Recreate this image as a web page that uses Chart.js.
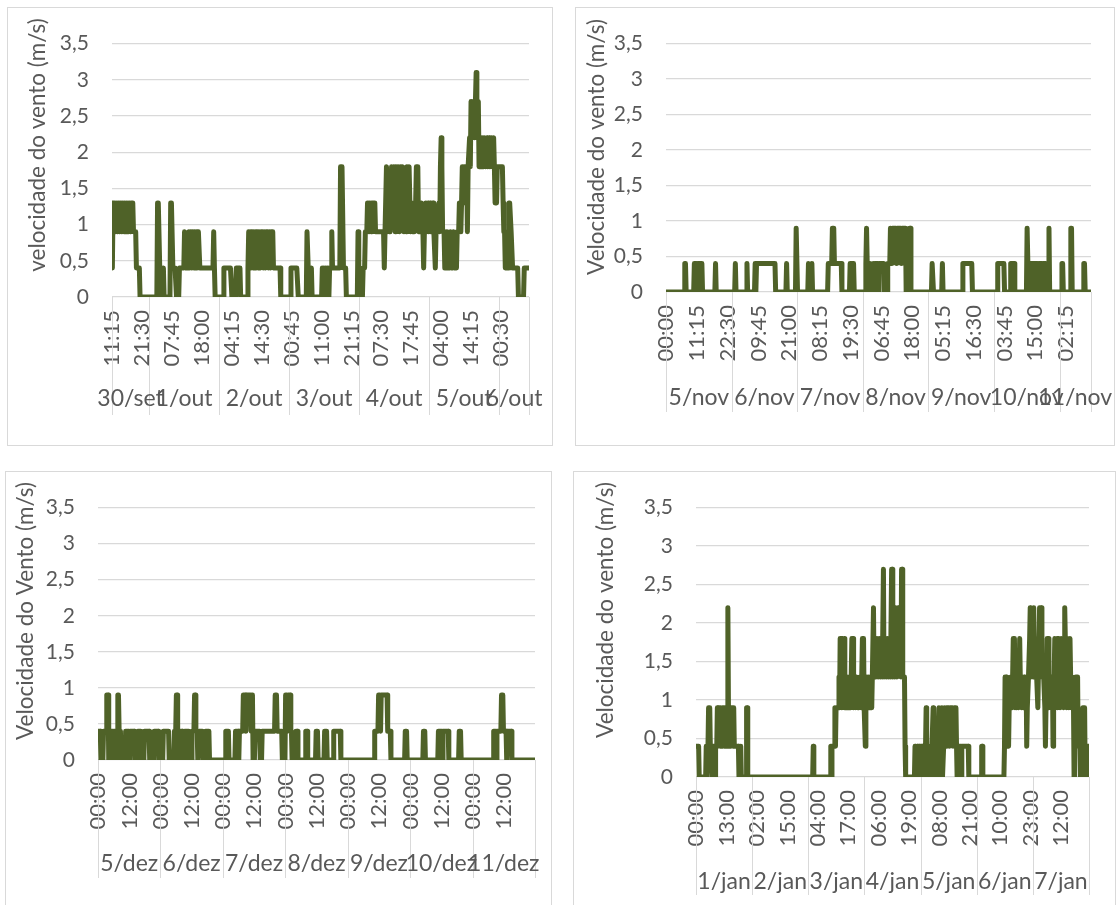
<!DOCTYPE html>
<html>
<head>
<meta charset="utf-8">
<script src="https://cdn.jsdelivr.net/npm/chart.js@4.4.1/dist/chart.umd.min.js"></script>
<style>
  html, body { margin: 0; padding: 0; background: #fff; }
  body { width: 1117px; height: 905px; overflow: hidden; position: relative; }
  .box { position: absolute; box-sizing: border-box; border: 1px solid #d9d9d9; background: #fff; }
  .box canvas { display: block; }
</style>
</head>
<body>
<div class="box" style="left:7px;top:7px;width:546px;height:439px"><canvas id="out" width="544" height="437"></canvas></div>
<div class="box" style="left:575px;top:7px;width:540px;height:439px"><canvas id="nov" width="538" height="437"></canvas></div>
<div class="box" style="left:5px;top:471px;width:547px;height:445px"><canvas id="dez" width="545" height="443"></canvas></div>
<div class="box" style="left:573px;top:471px;width:543px;height:445px"><canvas id="jan" width="541" height="443"></canvas></div>
<script>
// y axis, same for the four charts
const yTicks = [0, 0.5, 1, 1.5, 2, 2.5, 3, 3.5];
const yTickLabels = ['0', '0,5', '1', '1,5', '2', '2,5', '3', '3,5'];

// --- 30/set - 6/out (one reading every 15 min, index = reading number)
const outCount = 572;
const outDays = ['30/set', '1/out', '2/out', '3/out', '4/out', '5/out', '6/out'];
const outDayStart = [0, 51, 147, 243, 339, 435, 531];
const outTimes = ['11:15', '21:30', '07:45', '18:00', '04:15', '14:30', '00:45', '11:00', '21:15', '07:30', '17:45', '04:00', '14:15', '00:30'];
const outTickEvery = 41;
// [reading, m/s] at each change of the curve
const outVel = [[0,0.4],[1,1.3],[3,1.3],[4,0.9],[5,1.3],[7,0.9],[8,1.3],[10,0.9],[11,1.3],[13,0.9],[14,1.3],[16,0.9],[17,1.3],[19,0.9],[20,1.3],[22,0.9],[23,1.3],[25,0.9],[26,1.3],[28,1.3],[29,0.9],[32,0.9],[33,0.4],[37,0.4],[38,0],[61,0],[62,1.3],[63,1.3],[65,0.4],[66,0],[69,0],[70,0.4],[71,0],[79,0],[80,1.3],[81,1.3],[83,0.4],[86,0.4],[88,0],[91,0],[92,0.4],[98,0.4],[99,0.9],[100,0.4],[104,0.4],[105,0.9],[106,0.4],[107,0.9],[109,0.4],[110,0.9],[112,0.4],[113,0.9],[115,0.4],[116,0.9],[118,0.9],[120,0.4],[138,0.4],[139,0.9],[140,0.4],[141,0],[152,0],[153,0.4],[162,0.4],[164,0],[169,0],[170,0.4],[175,0.4],[176,0],[185,0],[186,0.4],[187,0.9],[189,0.4],[190,0.9],[192,0.9],[193,0.4],[194,0.9],[196,0.4],[197,0.9],[199,0.9],[200,0.4],[201,0.9],[203,0.4],[204,0.9],[206,0.9],[207,0.4],[208,0.9],[210,0.4],[211,0.9],[213,0.9],[214,0.4],[215,0.9],[217,0.4],[218,0.9],[220,0.9],[221,0.4],[230,0.4],[231,0],[244,0],[245,0.4],[253,0.4],[255,0],[266,0],[267,0.9],[268,0.9],[270,0],[272,0],[273,0.4],[274,0],[287,0],[288,0.4],[289,0],[290,0.4],[292,0],[293,0.4],[294,0],[295,0.4],[297,0],[298,0.4],[300,0.4],[301,0.9],[302,0.4],[312,0.4],[313,1.8],[315,1.8],[317,0.4],[320,0.4],[321,0],[336,0],[337,0.9],[338,0],[343,0],[344,0.4],[346,0.4],[347,0.9],[349,0.9],[350,1.3],[352,0.9],[353,1.3],[355,0.9],[356,1.3],[360,1.3],[361,0.9],[372,0.9],[373,0.4],[374,0.9],[376,1.8],[377,0.9],[379,1.3],[380,0.9],[381,0.9],[383,1.8],[385,1.3],[386,1.8],[388,0.9],[389,1.8],[391,1.3],[392,1.8],[394,0.9],[395,1.8],[397,1.3],[398,1.8],[400,0.9],[402,1.3],[403,0.9],[404,1.8],[406,1.3],[407,1.8],[409,0.9],[411,1.3],[412,0.9],[414,0.9],[416,1.3],[417,1.8],[419,1.8],[420,0.9],[422,0.9],[424,1.3],[426,0.9],[427,0.4],[428,0.9],[430,1.3],[431,0.9],[433,1.3],[434,0.9],[436,1.3],[437,0.9],[439,1.3],[440,1.3],[441,0.9],[443,0.4],[444,0.9],[446,0.9],[448,1.3],[449,0.9],[450,1.8],[451,2.2],[452,1.8],[453,0.9],[455,0.9],[456,0.4],[458,0.4],[459,0.9],[460,0.4],[463,0.4],[464,0.9],[465,0.4],[467,0.4],[468,0.9],[469,0.4],[472,0.4],[473,0.9],[475,0.9],[476,1.3],[478,0.9],[479,1.3],[480,1.8],[482,1.3],[483,1.8],[486,1.8],[487,0.9],[488,1.8],[490,2.2],[491,1.8],[492,2.7],[494,2.2],[495,2.7],[497,2.2],[498,2.7],[499,3.1],[500,2.7],[501,2.2],[502,2.7],[503,1.8],[504,2.2],[506,1.8],[507,2.2],[509,1.8],[510,2.2],[512,1.8],[514,2.2],[515,1.8],[517,2.2],[518,1.8],[520,2.2],[521,1.8],[523,2.2],[524,1.8],[525,1.3],[527,1.3],[528,1.8],[535,1.8],[536,1.3],[537,0.9],[538,0.9],[539,0.4],[543,0.4],[544,1.3],[545,1.3],[547,0.9],[548,0.9],[549,0.4],[556,0.4],[557,0],[564,0],[565,0.4],[571,0.4]];

// --- 5/nov - 11/nov
const novCount = 622;
const novDays = ['5/nov', '6/nov', '7/nov', '8/nov', '9/nov', '10/nov', '11/nov'];
const novDayStart = [0, 96, 192, 288, 384, 480, 576];
const novTimes = ['00:00', '11:15', '22:30', '09:45', '21:00', '08:15', '19:30', '06:45', '18:00', '05:15', '16:30', '03:45', '15:00', '02:15'];
const novTickEvery = 45;
const novVel = [[0,0],[26,0],[27,0.4],[28,0.4],[29,0],[40,0],[41,0.4],[44,0.4],[45,0],[46,0.4],[52,0.4],[53,0],[71,0],[72,0.4],[73,0],[100,0],[101,0.4],[102,0],[117,0],[118,0.4],[119,0],[129,0],[130,0.4],[131,0],[132,0.4],[159,0.4],[160,0],[175,0],[176,0.4],[177,0],[189,0],[190,0.9],[191,0.9],[192,0],[207,0],[208,0.4],[209,0],[212,0],[213,0.4],[214,0],[236,0],[237,0.4],[242,0.4],[243,0.9],[245,0.9],[246,0.4],[256,0.4],[257,0],[268,0],[269,0.4],[274,0.4],[275,0],[291,0],[292,0.4],[293,0.9],[294,0.4],[298,0.4],[299,0],[302,0],[303,0.4],[304,0],[305,0.4],[309,0.4],[310,0],[311,0.4],[318,0.4],[319,0],[323,0],[324,0.4],[327,0.4],[328,0.9],[330,0.4],[331,0.9],[336,0.9],[337,0.4],[338,0.9],[343,0.9],[344,0.4],[345,0.9],[350,0.9],[351,0],[355,0],[356,0.9],[357,0.9],[358,0],[388,0],[389,0.4],[390,0.4],[391,0],[403,0],[404,0.4],[405,0],[433,0],[434,0.4],[447,0.4],[448,0],[484,0],[485,0.4],[494,0.4],[495,0],[503,0],[504,0.4],[509,0.4],[510,0],[527,0],[528,0.9],[529,0.9],[530,0],[532,0],[533,0.4],[537,0.4],[538,0],[539,0.4],[543,0.4],[544,0],[545,0.4],[549,0.4],[550,0],[551,0.4],[555,0.4],[556,0],[559,0],[560,0.9],[561,0],[578,0],[579,0.4],[580,0.4],[581,0],[591,0],[592,0.9],[593,0.9],[594,0],[610,0],[611,0.4],[612,0.4],[613,0],[621,0]];

// --- 5/dez - 11/dez
const dezCount = 672;
const dezDays = ['5/dez', '6/dez', '7/dez', '8/dez', '9/dez', '10/dez', '11/dez'];
const dezDayStart = [0, 96, 192, 288, 384, 480, 576];
const dezTimes = ['00:00', '12:00', '00:00', '12:00', '00:00', '12:00', '00:00', '12:00', '00:00', '12:00', '00:00', '12:00', '00:00', '12:00'];
const dezTickEvery = 48;
const dezVel = [[0,0.4],[3,0.4],[4,0],[7,0],[8,0.4],[12,0.4],[13,0.9],[15,0.9],[16,0],[18,0],[19,0.4],[22,0.4],[23,0],[24,0.4],[27,0.4],[28,0],[29,0.4],[30,0.9],[31,0.9],[32,0.4],[34,0.4],[35,0],[41,0],[42,0.4],[47,0.4],[48,0],[49,0.4],[55,0.4],[56,0],[60,0],[61,0.4],[65,0.4],[66,0],[70,0],[71,0.4],[78,0.4],[79,0],[85,0],[86,0.4],[92,0.4],[93,0],[99,0],[100,0.4],[108,0.4],[109,0],[116,0],[117,0.4],[119,0.4],[120,0.9],[121,0.9],[122,0],[126,0],[127,0.4],[129,0.4],[130,0],[132,0],[133,0.4],[139,0.4],[140,0],[143,0],[144,0.4],[147,0.4],[148,0.9],[149,0.9],[150,0.4],[152,0.4],[153,0],[155,0.4],[160,0.4],[161,0],[164,0],[165,0.4],[170,0.4],[171,0],[195,0],[196,0.4],[200,0.4],[201,0],[210,0],[211,0.4],[215,0.4],[216,0],[217,0.4],[222,0.4],[223,0.9],[226,0.9],[227,0.4],[228,0.9],[234,0.9],[235,0.4],[236,0.9],[237,0.9],[238,0],[240,0],[241,0.4],[248,0.4],[249,0],[251,0],[252,0.4],[271,0.4],[272,0.9],[274,0.9],[275,0.4],[282,0.4],[283,0],[287,0],[288,0.9],[290,0.9],[291,0.4],[292,0.9],[295,0.9],[296,0.4],[297,0.4],[298,0],[303,0],[304,0.4],[306,0.4],[307,0],[318,0],[319,0.4],[321,0.4],[322,0],[334,0],[335,0.4],[337,0.4],[338,0],[347,0],[348,0.4],[351,0.4],[352,0],[361,0],[362,0.4],[372,0.4],[373,0],[424,0],[425,0.4],[430,0.4],[431,0.9],[433,0.9],[434,0.4],[435,0.9],[444,0.9],[445,0.4],[449,0.4],[450,0],[471,0],[472,0.4],[474,0.4],[475,0],[499,0],[500,0.4],[502,0.4],[503,0],[522,0],[523,0.4],[528,0.4],[529,0],[530,0.4],[538,0.4],[539,0],[554,0],[555,0.4],[557,0.4],[558,0],[607,0],[608,0.4],[611,0.4],[612,0],[613,0.4],[619,0.4],[620,0.9],[622,0.9],[623,0.4],[627,0.4],[628,0],[629,0.4],[635,0.4],[636,0],[671,0]];

// --- 1/jan - 7/jan
const janCount = 672;
const janDays = ['1/jan', '2/jan', '3/jan', '4/jan', '5/jan', '6/jan', '7/jan'];
const janDayStart = [0, 96, 192, 288, 384, 480, 576];
const janTimes = ['00:00', '13:00', '02:00', '15:00', '04:00', '17:00', '06:00', '19:00', '08:00', '21:00', '10:00', '23:00', '12:00'];
const janTickEvery = 52;
const janVel = [[0,0.4],[4,0.4],[5,0],[16,0],[17,0.4],[18,0],[20,0.4],[21,0.9],[23,0.9],[24,0.4],[26,0.4],[27,0],[28,0.4],[30,0.4],[31,0],[32,0],[33,0.4],[35,0.4],[36,0.9],[37,0.4],[38,0.9],[40,0.9],[41,0.4],[42,0.9],[44,0.4],[45,0.9],[47,0.9],[48,0.4],[49,0.9],[51,0.4],[52,0.9],[53,0.4],[54,2.2],[55,0.9],[56,0.4],[57,0.9],[59,0.4],[60,0.9],[62,0.9],[63,0.4],[64,0.9],[65,0.4],[72,0.4],[73,0],[75,0],[76,0.4],[77,0],[85,0],[86,0.9],[87,0.9],[88,0],[199,0],[200,0.4],[201,0],[229,0],[230,0.4],[231,0],[232,0.4],[236,0.4],[237,0.9],[238,0.4],[239,0.9],[243,0.9],[244,1.3],[245,0.9],[246,1.8],[248,1.8],[249,0.9],[250,1.8],[252,1.3],[253,1.8],[254,0.9],[255,1.3],[256,0.9],[257,1.3],[258,0.9],[260,0.9],[261,1.3],[262,0.9],[264,0.9],[266,1.8],[268,1.8],[269,0.9],[271,1.3],[272,0.9],[274,1.3],[276,0.9],[278,0.9],[280,1.3],[282,0.9],[284,1.8],[286,1.8],[287,0.9],[289,0.4],[290,0.9],[292,1.3],[294,0.9],[295,1.3],[297,0.9],[299,1.3],[300,0.9],[301,1.3],[303,2.2],[304,1.3],[306,1.8],[307,1.3],[309,1.8],[311,1.3],[313,1.8],[315,1.3],[317,1.8],[318,1.3],[320,2.7],[321,1.3],[323,1.8],[325,1.3],[327,1.8],[329,1.3],[331,1.8],[332,1.3],[334,2.7],[335,2.7],[336,1.3],[338,2.2],[339,1.3],[341,2.2],[343,1.3],[345,2.2],[346,1.8],[348,2.2],[350,1.3],[351,2.7],[352,2.7],[353,1.3],[356,1.3],[357,0.4],[358,0],[373,0],[374,0.4],[375,0],[377,0],[378,0.4],[379,0],[381,0.4],[382,0],[384,0.4],[386,0.4],[387,0],[389,0.4],[390,0],[392,0.4],[393,0.9],[394,0],[396,0.4],[397,0],[399,0.4],[401,0],[403,0.4],[405,0.9],[406,0],[408,0.4],[410,0.4],[411,0],[413,0.4],[415,0.9],[416,0.4],[417,0],[419,0.4],[420,0.9],[421,0],[423,0.4],[425,0.9],[427,0.4],[428,0.9],[432,0.9],[433,0.4],[434,0.9],[438,0.9],[439,0.4],[441,0.9],[444,0.9],[445,0.4],[446,0],[447,0.4],[452,0.4],[453,0],[454,0.4],[465,0.4],[466,0],[487,0],[488,0.4],[489,0.4],[490,0],[526,0],[527,0.4],[528,1.3],[530,1.3],[531,0.4],[534,0.4],[535,0.9],[537,0.9],[538,1.3],[540,0.9],[542,1.8],[544,1.8],[545,0.9],[547,1.3],[548,0.9],[549,1.3],[551,0.9],[553,1.8],[554,1.3],[556,0.9],[557,1.3],[559,0.9],[561,1.3],[562,0.9],[564,1.3],[565,0.4],[566,0.9],[568,1.3],[570,1.8],[571,2.2],[572,1.3],[574,1.8],[576,1.3],[577,2.2],[578,1.3],[580,1.8],[582,1.3],[584,0.9],[586,1.8],[587,2.2],[590,2.2],[591,1.3],[594,1.3],[596,0.9],[597,0.4],[598,0.9],[600,1.8],[602,1.8],[603,0.9],[605,1.3],[607,0.9],[609,1.3],[610,0.4],[611,0.9],[613,1.8],[615,1.3],[617,1.8],[618,0.9],[620,1.8],[621,1.3],[622,0.9],[624,1.8],[626,1.3],[628,0.9],[629,1.8],[630,2.2],[631,1.8],[633,0.9],[635,1.8],[637,0.9],[639,1.8],[641,0.9],[643,1.3],[645,0.9],[646,0],[647,0.4],[649,1.3],[652,1.3],[653,0.4],[656,0.4],[657,0],[659,0],[660,0.4],[661,0.9],[664,0.9],[665,0],[667,0.4],[670,0.4],[671,0]];

const lineColor = '#4f6228';
const gridColor = '#d9d9d9';
const textColor = '#595959';
const fontFamily = 'Lato, "Open Sans", sans-serif';

Chart.defaults.font.family = fontFamily;
Chart.defaults.font.size = 20;
Chart.defaults.color = textColor;

// day groups under the time labels (like excel's two level axis) + y title
const dayGroups = {
  id: 'dayGroups',
  beforeDatasetsDraw(chart, args, opts) {
    const x = chart.scales.x;
    const area = chart.chartArea;
    const ctx = chart.ctx;
    const edges = opts.starts.concat([opts.count]);
    ctx.save();
    ctx.strokeStyle = gridColor;
    ctx.lineWidth = 1;
    edges.forEach(e => {
      const px = Math.round(x.getPixelForValue(e - 0.5)) + 0.5;
      ctx.beginPath();
      ctx.moveTo(px, area.bottom);
      ctx.lineTo(px, area.bottom + opts.lineDown);
      ctx.stroke();
    });
    ctx.fillStyle = textColor;
    ctx.font = '23px ' + fontFamily;
    ctx.textAlign = 'center';
    ctx.textBaseline = 'middle';
    opts.labels.forEach((lab, i) => {
      const mid = (x.getPixelForValue(edges[i] - 0.5) + x.getPixelForValue(edges[i + 1] - 0.5)) / 2;
      ctx.fillText(lab, mid, area.bottom + opts.labelDown);
    });
    ctx.font = '22.5px ' + fontFamily;
    ctx.translate(opts.titleX, opts.titleY);
    ctx.rotate(-Math.PI / 2);
    ctx.fillText(opts.title, 0, 0);
    ctx.restore();
  }
};

function windChart(id, p) {
  return new Chart(document.getElementById(id), {
    type: 'line',
    data: {
      datasets: [{
        data: p.vel.map(v => ({ x: v[0], y: v[1] })),
        borderColor: lineColor,
        borderWidth: 5,
        borderJoinStyle: 'round',
        borderCapStyle: 'round',
        pointRadius: 0,
        tension: 0,
        fill: false
      }]
    },
    options: {
      responsive: false,
      animation: false,
      devicePixelRatio: 1,
      events: [],
      layout: { padding: { left: 0, top: p.top, right: p.right, bottom: 0 } },
      scales: {
        x: {
          type: 'linear',
          bounds: 'data',
          min: -0.5,
          max: p.count - 0.5,
          afterBuildTicks: s => { s.ticks = p.times.map((t, i) => ({ value: i * p.every })); },
          afterFit: s => { s.height = p.xHeight; },
          grid: { display: false, drawTicks: false },
          border: { display: false },
          ticks: { autoSkip: false, minRotation: 90, maxRotation: 90, padding: 13, font: { size: 22 }, callback: (v, i) => p.times[i] }
        },
        y: {
          min: 0,
          max: 3.5,
          afterBuildTicks: s => { s.ticks = yTicks.map(v => ({ value: v })); },
          afterFit: s => { s.width = p.yWidth; },
          grid: { color: gridColor, lineWidth: 1.2, drawTicks: false },
          border: { display: false },
          ticks: { padding: 23, font: { size: 21 }, callback: (v, i) => yTickLabels[i] }
        }
      },
      plugins: {
        legend: { display: false },
        tooltip: { enabled: false },
        dayGroups: {
          labels: p.days, starts: p.starts, count: p.count,
          labelDown: p.labelDown, lineDown: p.lineDown,
          title: p.title, titleX: p.titleX, titleY: p.titleY
        }
      }
    },
    plugins: [dayGroups]
  });
}

windChart('out', {
  vel: outVel, count: outCount, days: outDays, starts: outDayStart, times: outTimes, every: outTickEvery,
  title: 'velocidade do vento (m/s)',
  top: 33, right: 23, yWidth: 104, xHeight: 148, labelDown: 102, lineDown: 118, titleX: 30, titleY: 137
});
windChart('nov', {
  vel: novVel, count: novCount, days: novDays, starts: novDayStart, times: novTimes, every: novTickEvery,
  title: 'Velocidade do vento (m/s)',
  top: 33, right: 23, yWidth: 90, xHeight: 153, labelDown: 106, lineDown: 120, titleX: 21, titleY: 139
});
windChart('dez', {
  vel: dezVel, count: dezCount, days: dezDays, starts: dezDayStart, times: dezTimes, every: dezTickEvery,
  title: 'Velocidade do Vento (m/s)',
  top: 31, right: 16, yWidth: 92, xHeight: 155, labelDown: 104, lineDown: 118, titleX: 20, titleY: 139
});
windChart('jan', {
  vel: janVel, count: janCount, days: janDays, starts: janDayStart, times: janTimes, every: janTickEvery,
  title: 'Velocidade do vento (m/s)',
  top: 29, right: 26, yWidth: 122, xHeight: 138, labelDown: 105, lineDown: 118, titleX: 32, titleY: 138
});
</script>
</body>
</html>
